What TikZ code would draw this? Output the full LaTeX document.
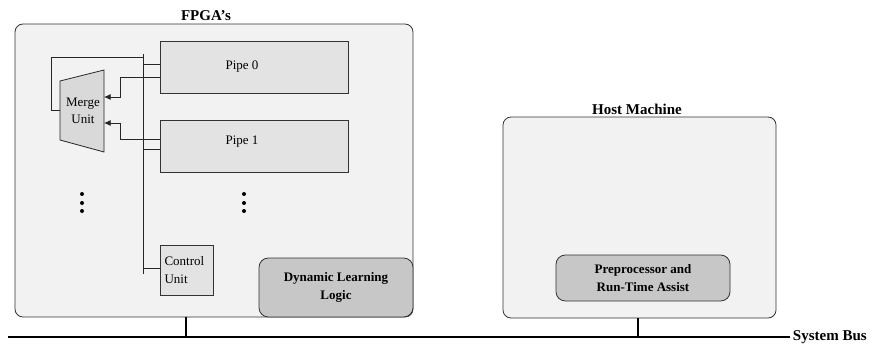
\documentclass[tikz,border=0pt]{standalone}
\usepackage{fontspec}
\setmainfont{Liberation Serif}
\usetikzlibrary{arrows.meta,positioning}

\begin{document}
\begin{tikzpicture}[x=0.75pt,y=-0.75pt,
  every node/.style={font=\fontsize{9.75}{13}\selectfont},
  board/.style={draw=black!80, fill=black!5, rounded corners=6pt, line width=0.6pt},
  blk/.style={draw=black!80, fill=black!11, line width=0.6pt, inner sep=0pt},
  logic/.style={draw=black!80, fill=black!22, rounded corners=7pt, line width=0.6pt, align=center, font=\fontsize{9.75}{13}\selectfont\bfseries},
  title/.style={font=\fontsize{11.25}{13}\selectfont\bfseries},
  wire/.style={draw=black!85, line width=0.6pt},
  arr/.style={wire, -{Latex[length=5pt,width=4.5pt]}},
  bus/.style={draw=black, line width=1.4pt}]
\useasboundingbox (0,0) rectangle (873,343);
% outer boxes
\node[board, minimum width=298.5pt, minimum height=219.75pt] (fpga) at (214,170.5) {};
\node[board, minimum width=204.75pt, minimum height=150.75pt] (host) at (639.5,217.5) {};
\node[title] (fpgat) at (206,16) {FPGA's};
\node[title] (hostt) at (637,109) {Host Machine};
% pipes and control
\node[blk, minimum width=141pt, minimum height=39pt, label={[xshift=-9pt]center:Pipe 0}] (pipe0) at (254,67) {};
\node[blk, minimum width=141pt, minimum height=39pt, label={[xshift=-9pt,yshift=3pt]center:Pipe 1}] (pipe1) at (254,146) {};
\node[blk, minimum width=39.75pt, minimum height=37.5pt, align=left, text width=33pt] (ctrl) at (186.5,270) {Control\\Unit};
\node[logic, minimum width=115.5pt, minimum height=44.25pt] (dll) at (336,287.5) {Dynamic Learning\\Logic};
\node[logic, minimum width=130.5pt, minimum height=34.5pt] (prep) at (643,278) {Preprocessor and\\Run-Time Assist};
% merge unit
\draw[wire, fill=black!15] (60,81) -- (104,70) -- (104,152) -- (60,140) -- cycle;
\node[align=center, inner sep=0pt] (merge) at (83,111) {Merge\\Unit};
\coordinate (m0) at (104,97);
\coordinate (m1) at (104,123);
% dots
\foreach \x in {82,244} \foreach \y in {194,203,211} \fill (\x,\y) circle (1.5pt);
% internal bus
\coordinate (vtop) at (143,54);
\coordinate (vbot) at (143,274);
\draw[wire] (vtop) -- (vbot);
\draw[wire] (60,110) -- (51,110) -- (51,57) -- (vtop |- 0,57);
\draw[wire] (vtop |- 0,64) -- (pipe0.west |- 0,64);
\draw[wire] (vtop |- 0,149) -- (pipe1.west |- 0,149);
\draw[wire] (vtop |- 0,268) -- (ctrl.west |- 0,268);
\draw[arr] (pipe0.west |- 0,77) -- (120,77) -- (120,97) -- (m0);
\draw[arr] (pipe1.west |- 0,139) -- (120,139) -- (120,123) -- (m1);
% system bus
\coordinate (busl) at (8,337);
\node[title, anchor=west, inner sep=2pt] (sysbus) at (790,337) {System Bus};
\draw[bus] (busl) -- (sysbus.west);
\draw[bus] (fpga.south -| 186,0) -- (186,337);
\draw[bus] (host.south -| 638,0) -- (638,337);
\end{tikzpicture}
\end{document}
